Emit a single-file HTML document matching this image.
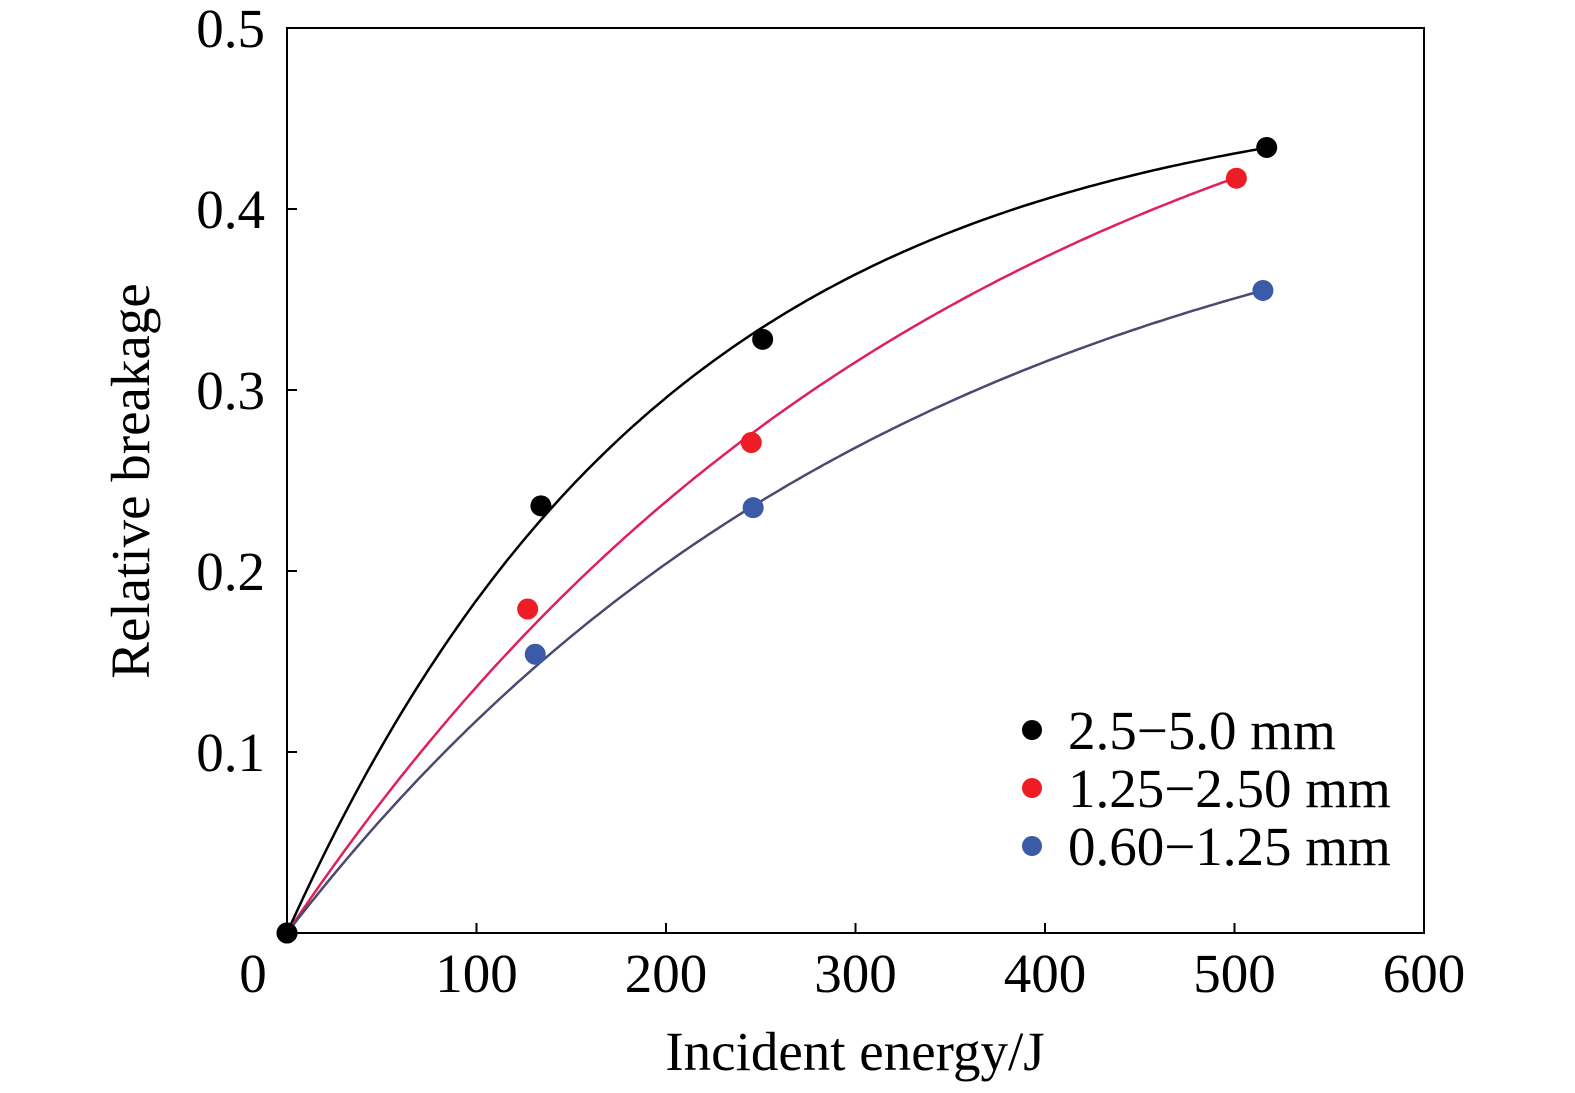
<!DOCTYPE html>
<html><head><meta charset="utf-8"><style>
html,body{margin:0;padding:0;background:#fff;}
svg{display:block;font-family:"Liberation Serif",serif;}
</style></head><body>
<svg id="chart" width="1575" height="1093"></svg>
<script>
const xTicks=[0,100,200,300,400,500,600];
const yTicks=[0.1,0.2,0.3,0.4,0.5];
const seriesNames=["2.5\u22125.0 mm","1.25\u22122.50 mm","0.60\u22121.25 mm"];
const blackX=[0,134,251,517];
const blackY=[0,0.236,0.328,0.434];
const redX=[0,127,245,501];
const redY=[0,0.179,0.271,0.417];
const blueX=[0,131,246,515];
const blueY=[0,0.154,0.235,0.355];
const fitA=[0.47,0.55,0.45];
const fitB=[0.00496,0.00284,0.00302];

const NS="http://www.w3.org/2000/svg";
const svg=document.getElementById('chart');
const L=287,R=1424,T=28,B=933;
const FS=55;
const xs=v=>L+(v/600)*(R-L);
const ys=v=>B-(v/0.5)*(B-T);
function el(tag,attrs,parent){const e=document.createElementNS(NS,tag);for(const k in attrs)e.setAttribute(k,attrs[k]);(parent||svg).appendChild(e);return e;}

const frame=el('rect',{x:L,y:T,width:R-L,height:B-T,fill:'none',stroke:'#000','stroke-width':2});



xTicks.forEach(t=>{
  if(t>0&&t<600){const tk=el('line',{x1:xs(t),x2:xs(t),y1:B,y2:B-10,stroke:'#000','stroke-width':2});
  
  }
  const tx=el('text',{x:xs(t)-(t===0?34:0),y:992,'font-size':FS,'text-anchor':'middle'});
  tx.textContent=t;
  
  
});
yTicks.forEach(t=>{
  if(t<0.5){const tk=el('line',{x1:L,x2:L+10,y1:ys(t),y2:ys(t),stroke:'#000','stroke-width':2});
  
  }
  const tx=el('text',{x:265,y:ys(t)+19,'font-size':FS,'text-anchor':'end'});
  tx.textContent=t.toFixed(1);
  
  
});
const xt=el('text',{x:855,y:1070,'font-size':FS,'text-anchor':'middle'});
xt.textContent='Incident energy/J';


const yt=el('text',{x:0,y:0,'font-size':FS,'text-anchor':'middle',transform:'translate(149,481) rotate(-90)'});
yt.textContent='Relative breakage';



const lineColors=['#000','#e0205a','#4a4a70'];
const dotColors=['#000','#ee1c25','#3b5aa8'];
const allX=[blackX,redX,blueX],allY=[blackY,redY,blueY];
for(let s=0;s<3;s++){
  let d='';
  for(let i=0;i<=200;i++){const x=i*(allX[s][allX[s].length-1])/200;const y=fitA[s]*(1-Math.exp(-fitB[s]*x));d+=(i?'L':'M')+xs(x).toFixed(1)+','+ys(y).toFixed(1);}
  const p=el('path',{d:d,fill:'none',stroke:lineColors[s],'stroke-width':2.5});
  
  
}
for(let s=2;s>=0;s--){
  allX[s].forEach((x,i)=>{
    const c=el('circle',{cx:xs(x),cy:ys(allY[s][i]),r:10.5,fill:dotColors[s]});
    
    
  });
}
seriesNames.forEach((n,i)=>{
  const y=730+i*58;
  const c=el('circle',{cx:1032,cy:y,r:10,fill:dotColors[i]});
  
  
  const t=el('text',{x:1068,y:y+19,'font-size':FS});
  t.textContent=n;
  
  
});
</script>
</body></html>
